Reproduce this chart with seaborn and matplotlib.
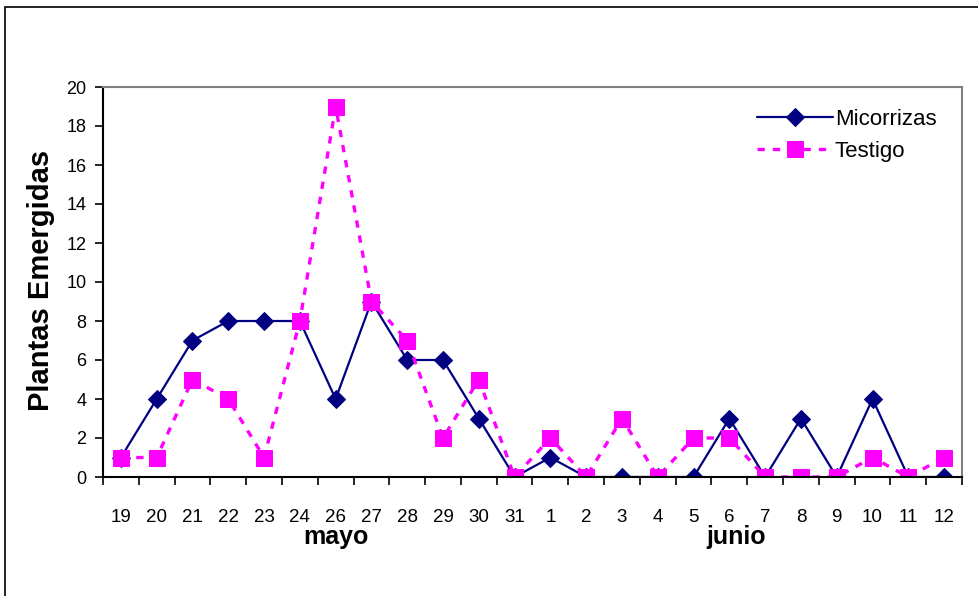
import matplotlib
matplotlib.use("Agg")
import matplotlib.pyplot as plt
import matplotlib.transforms as mtransforms
from matplotlib.patches import Rectangle
import numpy as np
import pandas as pd
import seaborn as sns

# ---- data ----
dias = ["19", "20", "21", "22", "23", "24", "26", "27", "28", "29", "30", "31",
        "1", "2", "3", "4", "5", "6", "7", "8", "9", "10", "11", "12"]
micorrizas = [1, 4, 7, 8, 8, 8, 4, 9, 6, 6, 3, 0, 1, 0, 0, 0, 0, 3, 0, 3, 0, 4, 0, 0]
testigo = [1, 1, 5, 4, 1, 8, 19, 9, 7, 2, 5, 0, 2, 0, 3, 0, 2, 2, 0, 0, 0, 1, 0, 1]
y_ticks = [0, 2, 4, 6, 8, 10, 12, 14, 16, 18, 20]
meses = ["mayo", "junio"]
mes_pos = [6.0, 17.2]

sns.set_style("white")
plt.rcParams['font.family'] = ['Liberation Sans', 'DejaVu Sans']
plt.rcParams['text.color'] = 'black'
plt.rcParams['xtick.color'] = 'black'
plt.rcParams['ytick.color'] = 'black'

W, H = 979, 596
fig = plt.figure(figsize=(W / 100, H / 100), dpi=100)
ax = fig.add_axes([103 / W, 1 - 477 / H, (962 - 103) / W, (477 - 87) / H])

df = pd.DataFrame({"dia": dias, "Micorrizas": micorrizas, "Testigo": testigo})

sns.lineplot(data=df, x="dia", y="Micorrizas", ax=ax, color="#000080", lw=1.6,
             marker="D", markersize=9.5, markeredgecolor="#000080",
             label="Micorrizas", sort=False)
sns.lineplot(data=df, x="dia", y="Testigo", ax=ax, color="#FF00FF", lw=2.4,
             linestyle=(0, (2.2, 2.4)), marker="s", markersize=11,
             markeredgecolor="#FF00FF", label="Testigo", sort=False)

ax.set_xlim(-0.5, len(dias) - 0.5)
ax.set_ylim(0, 20)
ax.set_yticks(y_ticks)
ax.set_xticks(range(len(dias)))
ax.set_xticklabels(dias)
ax.set_xticks(np.arange(-0.5, len(dias), 1), minor=True)
ax.set_xlabel("")
ax.set_ylabel("")

ax.tick_params(axis='x', which='major', length=0, pad=23, labelsize=13.5,
               labelcolor='black')
ax.tick_params(axis='x', which='minor', bottom=True, length=6, width=1.2,
               direction='out', color='black')
ax.tick_params(axis='y', which='major', left=True, length=6, width=1.2,
               direction='out', color='black', pad=6, labelsize=13,
               labelcolor='black')

for s in ['left', 'bottom']:
    ax.spines[s].set_color('black')
    ax.spines[s].set_linewidth(1.5)
for s in ['top', 'right']:
    ax.spines[s].set_color('#808080')
    ax.spines[s].set_linewidth(1.5)

# legend
leg = ax.legend(loc='upper left', bbox_to_anchor=(757 / W, 1 - 109 / H),
                bbox_transform=fig.transFigure, frameon=False, fontsize=16,
                handlelength=3.4, handletextpad=0.1, labelspacing=0.5,
                borderpad=0, borderaxespad=0)
for t in leg.get_texts():
    t.set_color('black')

# y label
fig.text(41 / W, 1 - 280 / H, "Plantas Emergidas", rotation=90, ha='center',
         va='center', fontsize=21, fontweight='bold', color='black')

# month labels
trans = mtransforms.blended_transform_factory(ax.transData, fig.transFigure)
for m, p in zip(meses, mes_pos):
    ax.text(p, 1 - 537 / H, m, transform=trans, ha='center', va='center',
            fontsize=18, fontweight='bold', color='black')

# outer border
fig.patches.append(Rectangle((5 / W, -0.1), 1.2, 1 - 7 / H + 0.1,
                             transform=fig.transFigure, fill=False,
                             edgecolor='black', lw=1.2))

fig.savefig("out.png", dpi=100)
